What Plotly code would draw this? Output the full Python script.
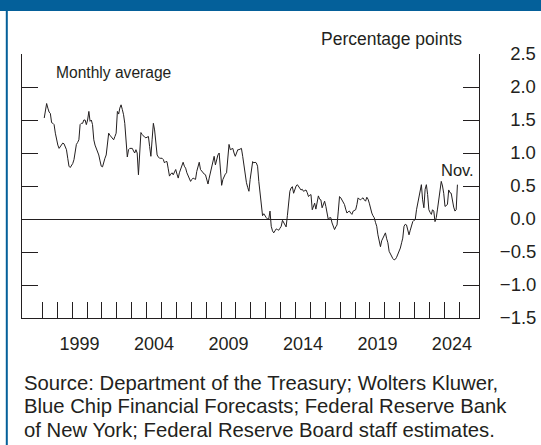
import pandas as pd
import plotly.graph_objects as go

# ---------------- data (monthly averages, percentage points) ----------------
v1997 = [1.53, 1.62, 1.75, 1.68, 1.62, 1.60, 1.46, 1.45, 1.43, 1.30, 1.20]  # Feb-Dec
v1998 = [1.12, 1.07, 1.10, 1.13, 1.15, 1.14, 1.10, 1.05, 0.92, 0.80, 0.78, 0.81]
v1999 = [0.84, 0.90, 1.02, 1.13, 1.16, 1.20, 1.43, 1.45, 1.45, 1.50, 1.50, 1.43]
v2000 = [1.50, 1.63, 1.48, 1.50, 1.43, 1.20, 1.12, 1.07, 1.02, 0.97, 0.88, 0.80]
v2001 = [0.79, 0.88, 0.92, 0.97, 1.15, 1.30, 1.27, 1.25, 1.22, 1.20, 1.25, 1.30]
v2002 = [1.63, 1.59, 1.68, 1.73, 1.66, 1.58, 1.45, 1.20, 0.94, 1.05, 1.07, 1.07]
v2003 = [1.07, 1.03, 1.00, 1.05, 1.00, 0.67, 0.95, 1.31, 1.28, 1.25, 1.24, 1.23]
v2004 = [1.24, 1.25, 1.10, 0.95, 1.20, 1.45, 1.35, 1.10, 0.97, 0.94, 0.92, 0.92]
v2005 = [0.92, 0.90, 0.85, 0.87, 0.87, 0.76, 0.65, 0.68, 0.70, 0.67, 0.72, 0.75]
v2006 = [0.68, 0.62, 0.70, 0.75, 0.80, 0.86, 0.80, 0.77, 0.70, 0.65, 0.60, 0.57]
v2007 = [0.60, 0.62, 0.61, 0.60, 0.72, 0.80, 0.86, 0.75, 0.72, 0.70, 0.68, 0.67]
v2008 = [0.60, 0.53, 0.62, 0.70, 0.80, 0.88, 0.95, 0.82, 0.90, 0.97, 1.00, 0.80]
v2009 = [0.51, 0.60, 0.65, 0.68, 0.70, 0.95, 1.13, 1.05, 1.06, 1.07, 1.00, 0.95]
v2010 = [1.00, 1.05, 1.05, 1.06, 1.07, 0.95, 0.82, 0.65, 0.55, 0.48, 0.42, 0.60]
v2011 = [0.75, 0.87, 0.85, 0.86, 0.85, 0.80, 0.57, 0.39, 0.12, 0.05, 0.08, 0.04]
v2012 = [0.02, 0.00, 0.00, 0.12, -0.11, -0.18, -0.21, -0.18, -0.15, -0.16, -0.17, -0.14]
v2013 = [-0.11, -0.02, -0.06, -0.10, -0.12, 0.05, 0.24, 0.42, 0.47, 0.49, 0.39, 0.45]
v2014 = [0.50, 0.52, 0.49, 0.47, 0.44, 0.45, 0.42, 0.43, 0.44, 0.40, 0.34, 0.36]
v2015 = [0.37, 0.14, 0.20, 0.24, 0.15, 0.28, 0.35, 0.30, 0.29, 0.17, 0.22, 0.27]
v2016 = [0.19, 0.08, -0.01, 0.02, 0.02, -0.06, -0.12, -0.16, -0.12, -0.09, 0.12, 0.34]
v2017 = [0.32, 0.29, 0.27, 0.22, 0.15, 0.09, 0.11, 0.12, 0.09, 0.07, 0.12, 0.13]
v2018 = [0.14, 0.22, 0.32, 0.30, 0.29, 0.31, 0.32, 0.29, 0.27, 0.33, 0.30, 0.24]
v2019 = [0.15, 0.09, 0.05, 0.02, -0.05, -0.11, -0.24, -0.35, -0.42, -0.33, -0.29, -0.24]
v2020 = [-0.21, -0.30, -0.36, -0.49, -0.53, -0.57, -0.60, -0.62, -0.61, -0.58, -0.54, -0.49]
v2021 = [-0.44, -0.36, -0.29, -0.11, -0.08, -0.09, -0.18, -0.24, -0.17, -0.11, -0.04, -0.02]
v2022 = [-0.01, 0.14, 0.24, 0.35, 0.47, 0.52, 0.29, 0.17, 0.45, 0.52, 0.37, 0.14]
v2023 = [0.10, 0.07, 0.14, 0.12, -0.04, 0.02, 0.15, 0.29, 0.39, 0.57, 0.50, 0.39]
v2024 = [0.19, 0.20, 0.22, 0.44, 0.40, 0.39, 0.27, 0.18, 0.12, 0.14, 0.52]  # Jan-Nov

yearly = [v1997, v1998, v1999, v2000, v2001, v2002, v2003, v2004, v2005, v2006,
          v2007, v2008, v2009, v2010, v2011, v2012, v2013, v2014, v2015, v2016,
          v2017, v2018, v2019, v2020, v2021, v2022, v2023, v2024]
values = [v for yr in yearly for v in yr]
first_month = "1997-02-01"
dates = pd.date_range(first_month, periods=len(values), freq="MS") + pd.Timedelta(days=14)

label_years = [1999, 2004, 2009, 2014, 2019, 2024]
tick_years = list(range(1997, 2026))
y_ticks = [-1.5, -1.0, -0.5, 0.0, 0.5, 1.0, 1.5, 2.0, 2.5]
# right-aligned look: pad non-negative labels with a figure space
y_text = [("\u2212" if v < 0 else "\u2007") + f"{abs(v):.1f}" for v in y_ticks]
x_range = ["1995-08-20", "2026-04-28"]
last_label = "Nov."
source_lines = [
    "Source: Department of the Treasury; Wolters Kluwer,",
    "Blue Chip Financial Forecasts; Federal Reserve Bank",
    "of New York; Federal Reserve Board staff estimates.",
]

# ---------------- styling / geometry ----------------
W, H = 541, 445
ML, MR, MT, MB = 22, 6, 54, 127
PW = W - ML - MR
PH = H - MT - MB
PLOT_RIGHT = 479
INK = "#231f20"
BLUE = "#04609a"
FONT = "Liberation Sans, Arial, sans-serif"


def px_x(x):
    return (x - ML) / PW


def px_y(y):
    return (H - MB - y) / PH


fig = go.Figure()
fig.add_trace(go.Scatter(x=dates, y=values, mode="lines",
                         line=dict(color=INK, width=1), showlegend=False,
                         hoverinfo="skip"))

fig.update_layout(
    width=W, height=H, template="none",
    margin=dict(l=ML, r=MR, t=MT, b=MB, pad=0),
    paper_bgcolor="white", plot_bgcolor="white",
    font=dict(family=FONT, size=18, color=INK),
    showlegend=False,
    xaxis=dict(
        type="date", domain=[0, px_x(PLOT_RIGHT)], range=x_range,
        tickmode="array",
        tickvals=[f"{y}-07-02" for y in label_years],
        ticktext=[str(y) for y in label_years],
        ticks="", showgrid=False, zeroline=False,
        showline=True, linecolor=INK, linewidth=1.3, mirror=False,
        ticklabelstandoff=9, automargin=False,
        tickfont=dict(size=18, color=INK),
        minor=dict(tickmode="array",
                   tickvals=[f"{y}-01-01" for y in tick_years],
                   ticks="inside", ticklen=16, tickwidth=1.2, tickcolor=INK,
                   showgrid=False),
    ),
    yaxis=dict(
        range=[-1.5, 2.5], side="right", tickmode="array",
        tickvals=y_ticks, ticktext=y_text, ticks="inside", ticklen=16,
        tickwidth=1.2, tickcolor=INK, showline=True, linecolor=INK,
        linewidth=1.3, mirror="ticks", showticklabels=True,
        ticklabelstandoff=16, showgrid=False,
        zeroline=True, zerolinecolor=INK, zerolinewidth=1, automargin=False,
        tickfont=dict(size=18.5, color=INK),
    ),
    yaxis3=dict(
        range=[-1.5, 2.5], overlaying="y", anchor="x", side="right",
        tickmode="array", tickvals=[2.5], ticks="inside", ticklen=32,
        tickwidth=1.2, tickcolor=INK, mirror="ticks", showline=True,
        linecolor=INK, linewidth=1.3, showticklabels=False, showgrid=False,
        zeroline=False, automargin=False,
    ),
)

# invisible anchor so the overlay axis gets drawn
fig.add_trace(go.Scatter(x=[dates[0]], y=[None], yaxis="y3", mode="lines",
                         showlegend=False, hoverinfo="skip"))

# header bar and left rule
fig.add_shape(type="rect", xref="paper", yref="paper",
              x0=px_x(0), x1=px_x(W), y0=px_y(11), y1=px_y(0),
              fillcolor=BLUE, line=dict(width=0), layer="above")
fig.add_shape(type="line", xref="paper", yref="paper",
              x0=px_x(6.8), x1=px_x(6.8), y0=px_y(H), y1=px_y(11),
              line=dict(color=BLUE, width=2), layer="above")

# text
fig.add_annotation(text="Percentage points", xref="paper", yref="paper",
                   x=px_x(464), y=px_y(39), xanchor="right", yanchor="middle",
                   showarrow=False, font=dict(size=17.5, color=INK))
fig.add_annotation(text="Monthly average", xref="paper", yref="paper",
                   x=px_x(54), y=px_y(72), xanchor="left", yanchor="middle",
                   showarrow=False, font=dict(size=15.6, color=INK))
fig.add_annotation(text=last_label, x=dates[-1], y=values[-1], xref="x", yref="y",
                   xanchor="center", yanchor="bottom", yshift=4,
                   showarrow=False, font=dict(size=16.5, color=INK))
for i, line in enumerate(source_lines):
    fig.add_annotation(text=line, xref="paper", yref="paper",
                       x=px_x(21.5), y=px_y(383 + 23.4 * i), xanchor="left",
                       yanchor="middle", align="left", showarrow=False,
                       font=dict(size=20.3, color=INK))

fig.write_html("out.html", config={"displayModeBar": False},
               post_script="document.body.style.margin='0';"
                           "document.body.style.overflow='hidden';")
